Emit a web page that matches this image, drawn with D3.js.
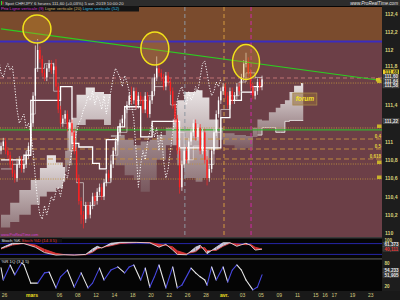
<!DOCTYPE html>
<html>
<head>
<meta charset="utf-8">
<script src="https://cdn.jsdelivr.net/npm/d3@7"></script>
<style>
  body { margin: 0; background: #000; overflow: hidden; }
  svg { display: block; font-family: "Liberation Sans", Arial, sans-serif; }
</style>
</head>
<body>
<script>
// CHF/JPY 6h candles (open = previous close)
var firstOpen = 110.9;
var closes = [
  110.95, 111.0, 110.9, 110.85, 110.75, 110.65, 110.6, 110.75, 110.8, 110.7,
  110.75, 110.85, 110.95, 111.2, 111.5, 111.8, 112.0, 111.9, 111.75, 111.7,
  111.8, 111.85, 111.78, 111.82, 111.6, 111.35, 111.2, 111.25, 111.3, 111.15,
  111.2, 111.1, 110.9, 110.6, 110.35, 110.2, 110.15, 110.3, 110.2, 110.3,
  110.4, 110.35, 110.45, 110.5, 110.4, 110.55, 110.65, 110.6, 110.75, 110.9,
  111.0, 111.1, 111.2, 111.25, 111.35, 111.4, 111.5, 111.45, 111.55, 111.4,
  111.5, 111.45, 111.35, 111.5, 111.3, 111.45, 111.55, 111.7, 111.8, 111.75,
  111.7, 111.6, 111.72, 111.65, 111.55, 111.4, 111.25, 110.9, 110.5, 110.75,
  110.9, 110.8, 111.0, 111.1, 111.2, 111.05, 111.15, 110.9, 111.1, 110.8,
  110.6, 110.7, 110.9, 111.1, 111.3, 111.45, 111.55, 111.6, 111.5, 111.4,
  111.55, 111.45, 111.5, 111.6, 111.55, 111.7, 111.85, 111.88, 111.75, 111.6,
  111.5, 111.55, 111.65, 111.6, 111.68
];
var wick = 0.04;
var highSpikes = [[15, 112.05], [16, 112.12], [24, 111.9], [57, 111.6], [66, 111.7], [68, 111.93], [107, 111.97]];
var lowSpikes = [[6, 110.55], [35, 110.1], [36, 110.05], [78, 110.43], [90, 110.52]];

// ichimoku pieces: [bar, upper, lower]
var cloudLobes = [
  [[0,110.20,110.06],[4,110.33,110.12],[8,110.47,110.20],[13,110.58,110.31],[17,110.71,110.40],[20,110.85,110.45],[24,110.77,110.49],[27,110.72,110.56],[28,110.70,110.67]],
  [[28,110.90,110.67],[29,111.21,110.74],[31,111.26,110.91],[33,111.51,111.18],[37,111.59,111.24],[41,111.54,111.24],[45,111.52,111.18],[48,111.24,111.07]],
  [[48,111.07,111.05],[50,111.07,110.74],[54,111.02,110.63],[58,110.96,110.58],[61,111.00,110.45],[65,111.02,110.58],[68,111.07,110.80],[72,111.15,110.96],[75,111.24,110.96]],
  [[75,111.24,110.96],[77,111.45,110.74],[80,111.54,110.60],[85,111.56,110.56],[88,111.48,110.60],[91,111.24,110.91],[95,111.15,111.02]],
  [[95,111.15,111.02],[97,111.09,110.96],[102,111.07,110.91],[107,111.06,110.93],[110,111.15,111.05],[112,111.24,111.07]],
  [[112,111.24,111.07],[114,111.23,111.15],[117,111.32,111.15],[120,111.37,111.10],[122,111.41,111.10],[124,111.45,111.22],[126,111.54,111.23],[128,111.61,111.23],[131,111.64,111.23],[132,111.65,111.23]]
];
var lobeDark = [false, false, true, false, true, false];

var kijun = [[0,110.80],[10,110.85],[13,111.45],[19,111.45],[26,111.60],[31,110.98],[34,110.94],[40,110.76],[43,110.70],[46,111.02],[51,111.16],[54,111.38],[61,111.05],[66,111.22],[75,111.22],[78,110.93],[90,110.93],[96,111.26],[100,111.45],[105,111.54],[110,111.60],[114,111.60]];
var tenkan = [[0,110.70],[5,110.75],[11,110.90],[13,111.30],[15,111.80],[19,111.85],[23,111.55],[26,111.20],[30,110.90],[33,110.55],[36,110.30],[41,110.40],[45,110.55],[48,110.85],[51,111.10],[55,111.35],[59,111.45],[64,111.50],[67,111.60],[71,111.65],[74,111.40],[77,111.10],[80,110.80],[84,110.95],[88,110.90],[90,110.75],[93,111.10],[96,111.35],[100,111.50],[104,111.65],[107,111.75],[111,111.70],[114,111.70]];
var chikouShift = 18;

// horizontal levels
var levelPrices = [111.694, 111.639, 111.148, 111.027, 110.918, 110.809, 110.754, 110.590];
var levelKinds  = ['pink', 'dot', 'dot', 'dash', 'dash', 'dash', 'dot', 'dot'];
var levelLabels = ['', '', '', '0,4', '0,5', '0,618', '', ''];
var supportPrice = 111.126;
var resistancePrice = 112.093;
var trendLine = [[0, 112.23], [164.6, 111.672]];

// vertical lines (bar index)
var vlineBars = [80.3, 97.4, 109.2];
var vlineColors = ['#8f96a0', '#d49a40', '#d02aa8'];

// highlighted tops
var circleBars = [15.7, 67.2, 107];
var circlePrices = [112.23, 112.016, 111.869];

// "forum" note anchor
var forumBar = 132.7, forumPrice = 111.464;

// stochastic (14 3 5)
var stochBars = [0,2,5,10,15,19,24,28,32,37,40,42,44,48,52,59,65,69,72,75,77,81,85,87,89,90,94,97,100,103,107,109,111,114];
var stochK = [54,66,82,80,60,30,16,18,16,20,50,65,55,82,87,87,84,60,76,44,20,18,60,71,40,24,60,85,85,65,82,70,44,49];
var stochD = [50,58,72,81,72,48,26,18,17,18,32,50,58,68,80,86,86,76,70,62,40,24,35,55,58,42,42,65,82,78,74,76,60,50];

// %R
var wrBars = [0,1,4,6,9,10,13,16,19,21,24,26,29,32,35,38,40,43,45,48,51,54,56,58,61,63,65,67,69,72,75,77,79,83,85,87,89,90,92,94,97,99,101,103,105,107,110,112,114];
var wrVals = [68,37,75,50,80,76,29,29,55,57,17,45,62,19,55,17,29,67,37,62,70,55,70,75,37,67,19,45,75,17,70,17,24,67,55,45,37,24,70,37,70,32,62,75,62,37,12,19,50];

// date axis
var dayTicks  = [0, 3, 6, 8, 10, 12, 14, 16, 18, 20, 22, 24, 26, 28, 30, 32, 34, 35, 36, 38, 40];
var dayLabels = ['26','mars','06','08','12','14','18','20','22','26','28','avr.','03','05','09','11','15','16','17','19','23'];
var barsPerDay = 4, firstDayBar = 1.3;

var priceTicks = [110, 110.2, 110.4, 110.6, 110.8, 111, 111.4, 111.8, 112, 112.2, 112.4];
var priceTags = ['111,68', '111,60', '111,64', '111,58'];

var width = 400, height = 300;
var plotR = 382, mainTop = 7, mainBot = 237;

var svg = d3.select('body').append('svg')
    .attr('width', width)
    .attr('height', height);

var x = d3.scaleLinear().domain([-0.437, 166.4]).range([0, plotR]);
var y = d3.scaleLinear().domain([110, 112]).range([233, 50]);
var sy = d3.scaleLinear().domain([0, 100]).range([258, 240]);
var wy = d3.scaleLinear().domain([0, 100]).range([294.6, 255.1]);

var fmt = function(v) { return (+v.toFixed(2)).toString().replace('.', ','); };

// backgrounds
svg.append('rect').attr('width', width).attr('height', height).attr('fill', '#050505');
svg.append('rect').attr('width', width).attr('height', 6).attr('fill', '#2c2c2c');
svg.append('rect').attr('x', plotR).attr('y', 6).attr('width', width - plotR).attr('height', 285).attr('fill', '#1d1d1d');
svg.append('rect').attr('x', 0).attr('y', mainTop).attr('width', plotR).attr('height', y(resistancePrice) - mainTop).attr('fill', '#7a4b2d');
svg.append('rect').attr('x', 0).attr('y', y(resistancePrice)).attr('width', plotR).attr('height', mainBot - y(resistancePrice)).attr('fill', '#6c3f47');
svg.append('rect').attr('x', 0).attr('y', mainBot).attr('width', plotR).attr('height', 1.5).attr('fill', '#3a3a3a');
svg.append('rect').attr('x', 0).attr('y', 258).attr('width', plotR).attr('height', 1.8).attr('fill', '#3a3a3a');
svg.append('rect').attr('x', 0).attr('y', 291).attr('width', width).attr('height', 9).attr('fill', '#191919');

var defs = svg.append('defs');
defs.append('clipPath').attr('id', 'mainClip')
  .append('rect').attr('x', 0).attr('y', mainTop).attr('width', plotR).attr('height', mainBot - mainTop);
function grad(id, c0, c1) {
  var g = defs.append('linearGradient').attr('id', id).attr('x1', 0).attr('y1', 0).attr('x2', 0).attr('y2', 1);
  g.append('stop').attr('offset', '0%').attr('stop-color', c0);
  g.append('stop').attr('offset', '100%').attr('stop-color', c1);
}
grad('cloudLight', '#f4f2f2', '#957d80');
grad('cloudDark', '#b2a2a4', '#7a5a60');

var main = svg.append('g').attr('clip-path', 'url(#mainClip)');

// cloud
var area = d3.area()
    .x(function(d) { return x(d[0]); })
    .y0(function(d) { return y(d[2]); })
    .y1(function(d) { return y(d[1]); })
    .curve(d3.curveStepAfter);
main.selectAll('path.cloud')
  .data(cloudLobes)
  .enter().append('path')
    .attr('class', 'cloud')
    .attr('d', area)
    .attr('fill', function(d, i) { return lobeDark[i] ? 'url(#cloudDark)' : 'url(#cloudLight)'; })
    .attr('opacity', 0.92);
main.append('path')
  .attr('d', d3.line().x(function(d) { return x(d[0]); }).y(function(d) { return y(d[2]); }).curve(d3.curveStepAfter)(cloudLobes[5]))
  .attr('fill', 'none').attr('stroke', '#f4f4f4').attr('stroke-width', 0.8);

// horizontal levels
var levelStyle = {
  pink: { c: '#c87a78', d: '4,3' },
  dot:  { c: '#c2953e', d: '1,1.4' },
  dash: { c: '#c8923e', d: '5,3' }
};
main.selectAll('line.level')
  .data(levelPrices)
  .enter().append('line')
    .attr('x1', 0).attr('x2', plotR)
    .attr('y1', function(d) { return y(d); })
    .attr('y2', function(d) { return y(d); })
    .attr('stroke', function(d, i) { return levelStyle[levelKinds[i]].c; })
    .attr('stroke-dasharray', function(d, i) { return levelStyle[levelKinds[i]].d; })
    .attr('stroke-width', 0.9);
main.append('line')
  .attr('x1', 0).attr('x2', plotR)
  .attr('y1', y(supportPrice)).attr('y2', y(supportPrice))
  .attr('stroke', '#35b030').attr('stroke-width', 1.2);

// vertical markers
main.selectAll('line.vline')
  .data(vlineBars)
  .enter().append('line')
    .attr('x1', function(d) { return x(d); })
    .attr('x2', function(d) { return x(d); })
    .attr('y1', mainTop).attr('y2', mainBot)
    .attr('stroke', function(d, i) { return vlineColors[i]; })
    .attr('stroke-dasharray', '4,3')
    .attr('stroke-width', 1);

// tenkan / kijun / chikou
var stepLine = d3.line()
    .x(function(d) { return x(d[0]); })
    .y(function(d) { return y(d[1]); })
    .curve(d3.curveStepAfter);
main.append('path').attr('d', stepLine(tenkan))
  .attr('fill', 'none').attr('stroke', '#e8e2e2').attr('stroke-width', 0.8).attr('opacity', 0.8);
main.append('path').attr('d', stepLine(kijun))
  .attr('fill', 'none').attr('stroke', '#ffffff').attr('stroke-width', 1.3);

var chikou = d3.line()
    .x(function(d, i) { return x(i - chikouShift); })
    .y(function(d) { return y(d); });
main.append('path').attr('d', chikou(closes))
  .attr('fill', 'none').attr('stroke', '#ffffff').attr('stroke-width', 1)
  .attr('stroke-dasharray', '1.2,1.6');

// candles
var hiMap = {}, loMap = {};
highSpikes.forEach(function(s) { hiMap[s[0]] = s[1]; });
lowSpikes.forEach(function(s) { loMap[s[0]] = s[1]; });
var candles = closes.map(function(c, i) {
  var o = i === 0 ? firstOpen : closes[i - 1];
  return {
    i: i, o: o, c: c,
    h: hiMap[i] !== undefined ? hiMap[i] : Math.max(o, c) + wick,
    l: loMap[i] !== undefined ? loMap[i] : Math.min(o, c) - wick
  };
});
var cg = main.selectAll('g.candle')
  .data(candles)
  .enter().append('g');
cg.append('line')
  .attr('x1', function(d) { return x(d.i); })
  .attr('x2', function(d) { return x(d.i); })
  .attr('y1', function(d) { return y(d.h); })
  .attr('y2', function(d) { return y(d.l); })
  .attr('stroke', function(d) { return d.c >= d.o ? '#f4f4f4' : '#ff2a2a'; })
  .attr('stroke-width', 0.7);
cg.append('rect')
  .attr('x', function(d) { return x(d.i) - 0.7; })
  .attr('width', 1.4)
  .attr('y', function(d) { return y(Math.max(d.o, d.c)); })
  .attr('height', function(d) { return Math.max(0.8, Math.abs(y(d.o) - y(d.c))); })
  .attr('fill', function(d) { return d.c >= d.o ? '#ffffff' : '#ff2020'; });

// resistance + trend line
main.append('line')
  .attr('x1', 0).attr('x2', plotR)
  .attr('y1', y(resistancePrice)).attr('y2', y(resistancePrice))
  .attr('stroke', '#3a2cc0').attr('stroke-width', 1.8);
main.append('line')
  .attr('x1', x(trendLine[0][0])).attr('y1', y(trendLine[0][1]))
  .attr('x2', x(trendLine[1][0])).attr('y2', y(trendLine[1][1]))
  .attr('stroke', '#2ecb22').attr('stroke-width', 1.2);

// circled tops
main.selectAll('ellipse')
  .data(circleBars)
  .enter().append('ellipse')
    .attr('cx', function(d) { return x(d); })
    .attr('cy', function(d, i) { return y(circlePrices[i]); })
    .attr('rx', function(d, i) { return [14, 14, 13.5][i]; })
    .attr('ry', function(d, i) { return [14, 16.5, 17.5][i]; })
    .attr('fill', 'rgba(215,150,40,0.33)')
    .attr('stroke', '#f2e21a').attr('stroke-width', 1.5);

// "forum" tag
var forum = main.append('g').attr('transform', 'translate(' + x(forumBar) + ',' + y(forumPrice) + ')');
forum.append('rect').attr('x', -12).attr('y', -6).attr('width', 24).attr('height', 12)
  .attr('fill', 'rgba(150,110,60,0.55)').attr('stroke', '#a8884a').attr('stroke-width', 0.8);
forum.append('text').attr('text-anchor', 'middle').attr('dy', 2.2)
  .attr('font-size', 6.5).attr('font-weight', 'bold').attr('font-style', 'italic')
  .attr('fill', '#f4e42a').text('forum');

// level labels on the right edge
main.selectAll('text.lvl')
  .data(levelPrices)
  .enter().append('text')
    .attr('x', plotR - 1).attr('y', function(d) { return y(d) - 1; })
    .attr('text-anchor', 'end').attr('font-size', 4.5).attr('font-weight', 'bold')
    .attr('fill', '#e6d43a')
    .text(function(d, i) { return levelLabels[i]; });
[levelPrices[1], levelPrices[2], levelPrices[6], levelPrices[7]].forEach(function(p) {
  main.append('rect').attr('x', plotR - 5).attr('y', y(p) - 3.5).attr('width', 4.5).attr('height', 3.5)
    .attr('fill', '#c9b22a');
});
main.append('rect').attr('x', x(trendLine[1][0]) - 2).attr('y', y(trendLine[1][1]) - 2)
  .attr('width', 4.5).attr('height', 3.5).attr('fill', '#d4c02a');

main.append('text').attr('x', 1).attr('y', 235.5).attr('font-size', 3.6)
  .attr('fill', '#d040d8').text('www.ProRealTime.com');

// price axis
var yAxis = svg.append('g')
    .attr('transform', 'translate(' + (plotR + 3) + ',0)')
    .call(d3.axisRight(y).tickValues(priceTicks).tickSize(0).tickPadding(0).tickFormat(fmt));
yAxis.select('.domain').remove();
yAxis.selectAll('text')
  .attr('font-size', 5.2).attr('font-weight', 'bold').attr('fill', '#d9d27a')
  .attr('font-family', '"Liberation Sans", Arial, sans-serif')
  .attr('dy', function(d) { return d === 111.8 ? '-0.25em' : '0.32em'; });

// stacked price tags
priceTags.forEach(function(t, i) {
  var cy = y(111.76) + i * 4.6;
  svg.append('rect').attr('x', plotR + 1).attr('y', cy - 2.4).attr('width', 16).attr('height', 4.6)
    .attr('fill', i === 0 ? '#e8d02c' : '#3a3a3a').attr('stroke', i === 0 ? 'none' : '#777').attr('stroke-width', 0.3);
  svg.append('text').attr('x', plotR + 2.5).attr('y', cy + 1.7).attr('font-size', 4.6).attr('font-weight', 'bold')
    .attr('fill', i === 0 ? '#222' : '#e8e8e8').text(t);
});
svg.append('rect').attr('x', plotR + 1).attr('y', y(111.22) - 2.6).attr('width', 16).attr('height', 5)
  .attr('fill', '#3a3a3a').attr('stroke', '#888').attr('stroke-width', 0.3);
svg.append('text').attr('x', plotR + 2.5).attr('y', y(111.22) + 1.7).attr('font-size', 4.6).attr('font-weight', 'bold')
  .attr('fill', '#e8e8e8').text('111,22');

// stochastic panel
svg.selectAll('line.sl')
  .data([80, 20])
  .enter().append('line')
    .attr('x1', 0).attr('x2', plotR)
    .attr('y1', function(d) { return sy(d); }).attr('y2', function(d) { return sy(d); })
    .attr('stroke', '#2626a8').attr('stroke-width', 1);
var ribbon = [];
for (var j = 0; j < stochBars.length - 1; j++) {
  ribbon.push({
    pts: [[x(stochBars[j]), sy(stochK[j])], [x(stochBars[j + 1]), sy(stochK[j + 1])],
          [x(stochBars[j + 1]), sy(stochD[j + 1])], [x(stochBars[j]), sy(stochD[j])]],
    down: stochK[j] + stochK[j + 1] < stochD[j] + stochD[j + 1]
  });
}
svg.selectAll('polygon.rib')
  .data(ribbon)
  .enter().append('polygon')
    .attr('points', function(d) { return d.pts.join(' '); })
    .attr('fill', function(d) { return d.down ? '#d43030' : '#c8c4d8'; });
var sLine = function(vals) {
  return d3.line().x(function(d, i) { return x(stochBars[i]); }).y(function(d) { return sy(d); })(vals);
};
svg.append('path').attr('d', sLine(stochD)).attr('fill', 'none').attr('stroke', '#e03a3a').attr('stroke-width', 0.8);
svg.append('path').attr('d', sLine(stochK)).attr('fill', 'none').attr('stroke', '#e8e8ee').attr('stroke-width', 0.8);

svg.append('rect').attr('x', 0).attr('y', 238).attr('width', 62).attr('height', 4.5).attr('fill', '#111');
var stl = svg.append('text').attr('x', 1.5).attr('y', 241.6).attr('font-size', 4.3);
stl.append('tspan').attr('fill', '#e8e8e8').text('Stoch %K ');
stl.append('tspan').attr('fill', '#e83a3a').text('Stoch %D (14 3 5)');

// %R panel
var wrSegs = [];
for (var k = 0; k < wrBars.length - 1; k++) {
  wrSegs.push({ a: k, b: k + 1, up: wrVals[k + 1] > wrVals[k] });
}
svg.selectAll('line.wr')
  .data(wrSegs)
  .enter().append('line')
    .attr('x1', function(d) { return x(wrBars[d.a]); })
    .attr('y1', function(d) { return wy(wrVals[d.a]); })
    .attr('x2', function(d) { return x(wrBars[d.b]); })
    .attr('y2', function(d) { return wy(wrVals[d.b]); })
    .attr('stroke', function(d) { return d.up ? '#4848e0' : '#e6e6e6'; })
    .attr('stroke-width', 1.1)
    .attr('stroke-linecap', 'round');
svg.append('text').attr('x', 1.5).attr('y', 263).attr('font-size', 4.3).attr('fill', '#e8e8e8').text('%R 1Q (3 3 5)');

// right labels of lower panels
function sideLabel(yy, t, col, boxed) {
  if (boxed) {
    svg.append('rect').attr('x', plotR + 1).attr('y', yy - 2.4).attr('width', 16).attr('height', 4.6)
      .attr('fill', '#303030').attr('stroke', '#666').attr('stroke-width', 0.3);
  }
  svg.append('text').attr('x', plotR + 2.5).attr('y', yy + 1.7).attr('font-size', 4.6).attr('font-weight', 'bold')
    .attr('fill', col).text(t);
}
sideLabel(240.7, '100', '#d9d27a', false);
sideLabel(244.7, '61,373', '#e8e8e8', true);
sideLabel(248.9, '40,111', '#e83a3a', true);
sideLabel(263.3, '80', '#d9d27a', false);
sideLabel(270.7, '54,233', '#e8e8e8', true);
sideLabel(275.1, '51,905', '#e8e8e8', true);
sideLabel(286.7, '20', '#d9d27a', false);

// date axis
var xAxis = svg.append('g')
    .attr('transform', 'translate(0,293)')
    .call(d3.axisBottom(x)
      .tickValues(dayTicks.map(function(d) { return firstDayBar + barsPerDay * d; }))
      .tickSize(0).tickPadding(0)
      .tickFormat(function(d, i) { return dayLabels[i]; }));
xAxis.select('.domain').remove();
xAxis.selectAll('text')
  .attr('font-family', '"Liberation Sans", Arial, sans-serif')
  .attr('font-size', 5)
  .attr('dy', '0.8em')
  .attr('font-weight', function(d, i) { return isNaN(+dayLabels[i]) ? 'bold' : 'normal'; })
  .attr('fill', function(d, i) { return isNaN(+dayLabels[i]) ? '#f0e020' : '#d6cc80'; });

// header and legend
svg.append('rect').attr('x', 1).attr('y', 1).attr('width', 1).attr('height', 4).attr('fill', '#30d030');
svg.append('rect').attr('x', 2.5).attr('y', 1.5).attr('width', 1).attr('height', 3).attr('fill', '#e03030');
svg.append('text').attr('x', 5).attr('y', 4.6).attr('font-size', 4.3).attr('fill', '#dcdcdc')
  .text('Spot CHF/JPY   6 heures   111,60 (+0,03%)   5 avr. 2019 10:00:20');
svg.append('text').attr('x', 398).attr('y', 4.8).attr('text-anchor', 'end').attr('font-size', 4.6)
  .attr('font-style', 'italic').attr('fill', '#e8e8e8').text('www.ProRealTime.com');
svg.append('rect').attr('x', 0).attr('y', 6).attr('width', 139).attr('height', 5.5).attr('fill', '#141414');
var leg = svg.append('text').attr('x', 1).attr('y', 10.3).attr('font-size', 4.3);
leg.append('tspan').attr('fill', '#e04ad8').text('Prix ');
leg.append('tspan').attr('fill', '#d030c8').text('Ligne verticale (9) ');
leg.append('tspan').attr('fill', '#d8b868').text('Ligne verticale (20) ');
leg.append('tspan').attr('fill', '#38c0e8').text('Ligne verticale (52)');
</script>
</body>
</html>
